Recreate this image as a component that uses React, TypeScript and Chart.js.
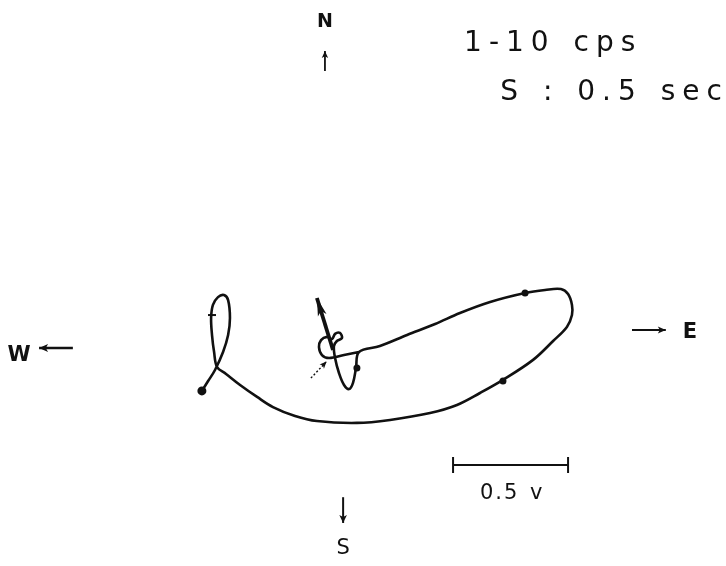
import { useEffect, useRef } from "react";
import { Chart, registerables } from "chart.js";

Chart.register(...registerables);

// Horizontal particle motion, band-passed 1-10 cps (volts; + east, + north)
const traceEast = [
  0.126, 0.061, -0.004, -0.035, -0.048, -0.039, -0.013, 0.009, 0.022, 0.043,
  0.052, 0.03, 0.017, 0.022, 0.039, 0.061, 0.083, 0.1, 0.113, 0.126,
  0.217, 0.335, 0.457, 0.565, 0.696, 0.848, 0.935, 1.004, 1.035, 1.052,
  1.052, 1.03, 0.97, 0.883, 0.752, 0.652, 0.552, 0.435, 0.261, 0.117,
  -0.057, -0.152, -0.248, -0.317, -0.391, -0.452, -0.491, -0.504, -0.513, -0.517,
  -0.509, -0.487, -0.461, -0.443, -0.435, -0.443, -0.465, -0.5, -0.53, -0.557,
];
const traceNorth = [
  -0.009, -0.022, -0.035, -0.022, 0.013, 0.043, 0.057, 0.048, 0.07, 0.074,
  0.052, 0.039, 0.017, -0.035, -0.1, -0.152, -0.17, -0.143, -0.078, -0.009,
  0.017, 0.065, 0.113, 0.161, 0.209, 0.248, 0.261, 0.265, 0.243, 0.196,
  0.152, 0.1, 0.039, -0.043, -0.13, -0.187, -0.239, -0.274, -0.304, -0.317,
  -0.309, -0.287, -0.248, -0.204, -0.152, -0.104, -0.074, -0.009, 0.065, 0.139,
  0.196, 0.23, 0.239, 0.217, 0.139, 0.065, -0.009, -0.087, -0.135, -0.178,
];

// 0.5 s timing marks along the trace
const markEast = [0.117, 0.848, 0.752, -0.513, -0.557];
const markNorth = [-0.078, 0.248, -0.135, 0.152, -0.178];
const markRadius = [2.5, 2.5, 2.5, 4, 3.5];
const markStyle = ["circle", "circle", "circle", "line", "circle"];

// S-wave polarization arrow
const polarEast = [0.013, -0.057];
const polarNorth = [0.0, 0.226];

// Pointer to the start of the motion
const startEast = [-0.083, -0.015];
const startNorth = [-0.122, -0.05];

// 0.5 v scale bar
const scaleEast = [0.535, 1.035];
const scaleNorth = [-0.5, -0.5];

const headerLines = ["1-10 cps", "S : 0.5 sec"];
const scaleLabel = "0.5 v";

// Plot window (volts)
const xRange = [-1.4348, 1.7217];
const yRange = [-0.9391, 1.5217];

const FONT = '"DejaVu Sans", "Liberation Sans", sans-serif';
const INK = "#111";

const pts = (xs: number[], ys: number[]) => xs.map((x, i) => ({ x, y: ys[i] }));

function arrowHead(
  ctx: CanvasRenderingContext2D,
  x1: number, y1: number, x2: number, y2: number,
  len: number, half: number
) {
  const a = Math.atan2(y2 - y1, x2 - x1);
  ctx.save();
  ctx.translate(x2, y2);
  ctx.rotate(a);
  ctx.beginPath();
  ctx.moveTo(0, 0);
  ctx.lineTo(-len, -half);
  ctx.lineTo(-len * 0.75, 0);
  ctx.lineTo(-len, half);
  ctx.closePath();
  ctx.fillStyle = INK;
  ctx.fill();
  ctx.restore();
}

const decorations = {
  id: "decorations",
  afterDatasetsDraw(chart: any) {
    const { ctx } = chart;
    const sx = chart.scales.x;
    const sy = chart.scales.y;
    const X = (v: number) => sx.getPixelForValue(v);
    const Y = (v: number) => sy.getPixelForValue(v);

    const line = (ax: number, ay: number, bx: number, by: number, w: number, head: number, half: number) => {
      const x1 = X(ax), y1 = Y(ay), x2 = X(bx), y2 = Y(by);
      ctx.save();
      ctx.strokeStyle = INK;
      ctx.lineWidth = w;
      ctx.lineCap = "butt";
      ctx.beginPath();
      ctx.moveTo(x1, y1);
      ctx.lineTo(x2, y2);
      ctx.stroke();
      ctx.restore();
      arrowHead(ctx, x1, y1, x2, y2, head, half);
    };

    // arrow heads on the polarization arrow and start pointer
    arrowHead(ctx, X(polarEast[0]), Y(polarNorth[0]), X(polarEast[1]), Y(polarNorth[1]), 18, 4.5);
    arrowHead(ctx, X(startEast[0]), Y(startNorth[0]), X(startEast[1]), Y(startNorth[1]), 7, 3);

    // compass arrows
    line(-0.022, 1.213, -0.022, 1.3, 1.8, 7, 3.2);
    line(0.057, -0.64, 0.057, -0.752, 2, 8, 3.8);
    line(-1.118, 0.009, -1.265, 0.009, 2.4, 9, 4);
    line(1.313, 0.087, 1.46, 0.087, 2, 8, 3.5);

    ctx.save();
    ctx.fillStyle = INK;
    ctx.textBaseline = "middle";
    ctx.textAlign = "center";
    ctx.font = `bold 19px ${FONT}`;
    ctx.fillText("N", X(-0.022), Y(1.426));
    ctx.font = `bold 21px ${FONT}`;
    ctx.fillText("W", X(-1.352), Y(-0.022));
    ctx.fillText("E", X(1.565), Y(0.078));
    ctx.font = `21px ${FONT}`;
    ctx.fillText("S", X(0.057), Y(-0.865));

    ctx.textAlign = "left";
    ctx.font = `28px ${FONT}`;
    (ctx as any).letterSpacing = "7px";
    (ctx as any).wordSpacing = "2px";
    ctx.fillText(headerLines[0], X(0.583), Y(1.33));
    ctx.fillText(headerLines[1], X(0.74), Y(1.118));
    (ctx as any).letterSpacing = "2px";
    (ctx as any).wordSpacing = "2px";
    ctx.font = `21px ${FONT}`;
    ctx.fillText(scaleLabel, X(0.652), Y(-0.626));
    ctx.restore();
  },
};

export default function App() {
  const ref = useRef<HTMLCanvasElement>(null);

  useEffect(() => {
    if (!ref.current) return;
    const chart = new Chart(ref.current, {
      type: "scatter",
      data: {
        datasets: [
          {
            data: pts(traceEast, traceNorth),
            showLine: true,
            borderColor: INK,
            borderWidth: 2.6,
            pointRadius: 0,
            tension: 0.35,
          },
          {
            data: pts(markEast, markNorth),
            showLine: false,
            pointRadius: markRadius,
            pointStyle: markStyle as any,
            backgroundColor: INK,
            borderColor: INK,
            borderWidth: 2,
          },
          {
            data: pts(polarEast, polarNorth),
            showLine: true,
            borderColor: INK,
            borderWidth: 3.8,
            pointRadius: 0,
          },
          {
            data: pts(startEast, startNorth),
            showLine: true,
            borderColor: INK,
            borderWidth: 1.4,
            borderDash: [2, 2],
            pointRadius: 0,
          },
          {
            data: pts(scaleEast, scaleNorth),
            showLine: true,
            borderColor: INK,
            borderWidth: 2,
            pointStyle: "line",
            rotation: 90,
            pointRadius: 8,
            pointBorderWidth: 2,
            pointBorderColor: INK,
          },
        ],
      },
      options: {
        responsive: false,
        animation: false,
        events: [],
        layout: { padding: 0, autoPadding: false },
        plugins: { legend: { display: false }, tooltip: { enabled: false } },
        scales: {
          x: { type: "linear", min: xRange[0], max: xRange[1], display: false },
          y: { type: "linear", min: yRange[0], max: yRange[1], display: false },
        },
      },
      plugins: [decorations],
    });
    return () => chart.destroy();
  }, []);

  return (
    <div style={{ position: "fixed", left: 0, top: 0, width: 726, height: 566, background: "#fff" }}>
      <canvas ref={ref} width={726} height={566} />
    </div>
  );
}
